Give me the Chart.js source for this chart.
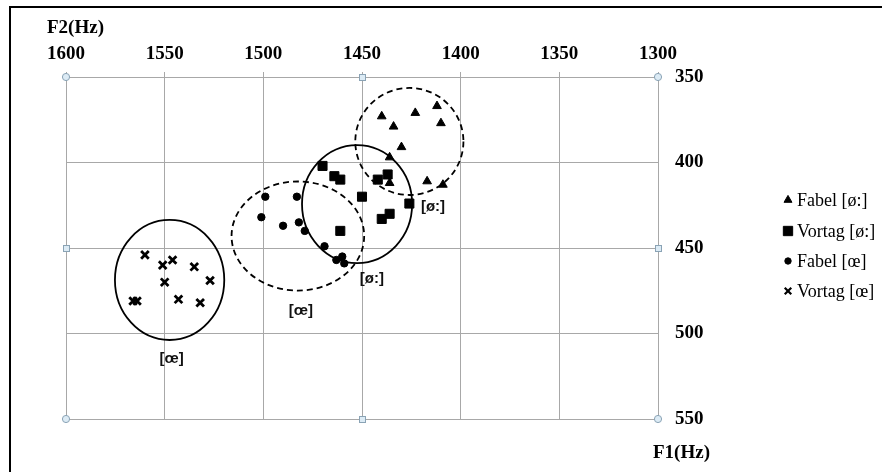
<!DOCTYPE html>
<html>
<head>
<meta charset="utf-8">
<script src="https://cdn.jsdelivr.net/npm/chart.js@4/dist/chart.umd.min.js"></script>
<style>
  html, body { margin: 0; padding: 0; background: #fff; }
  #wrap { position: relative; width: 882px; height: 472px; overflow: hidden; }
  #wrap canvas { position: absolute; left: 0; top: 0; }
  #frame { position: absolute; left: 9px; top: 6px; width: 900px; height: 500px;
           border-top: 2px solid #000; border-left: 2px solid #000; pointer-events: none; }
</style>
</head>
<body>
<div id="wrap">
  <canvas id="chart" width="882" height="472"></canvas>
  <div id="frame"></div>
</div>
<script>
// Formant measurements (F2 horizontal, F1 vertical), in Hz
const seriesNames = ['Fabel [ø:]', 'Vortag [ø:]', 'Fabel [œ]', 'Vortag [œ]'];

const fabelLongF2  = [1440, 1423, 1412, 1434, 1410, 1430, 1436, 1436, 1417, 1409];
const fabelLongF1  = [373, 371, 367, 379, 377, 391, 397, 412, 411, 413];

const vortagLongF2 = [1470, 1464, 1461, 1450, 1442, 1437, 1426, 1440, 1436, 1461];
const vortagLongF1 = [402, 408, 410, 420, 410, 407, 424, 433, 430, 440];

const fabelShortF2  = [1499, 1483, 1501, 1490, 1482, 1479, 1469, 1463, 1460, 1459];
const fabelShortF1  = [420, 420, 432, 437, 435, 440, 449, 457, 455, 459];

const vortagShortF2 = [1560, 1551, 1546, 1535, 1527, 1550, 1566, 1564, 1543, 1532];
const vortagShortF1 = [454, 460, 457, 461, 469, 470, 481, 481, 480, 482];

// Axis ticks
const f2Ticks = [1600, 1550, 1500, 1450, 1400, 1350, 1300];
const f1Ticks = [350, 400, 450, 500, 550];

// Vowel areas: centre and half-axes in Hz
const areaCentreF2 = [1426, 1452.5, 1482.5, 1547.5];
const areaCentreF1 = [387.7, 424.3, 443, 468.7];
const areaRadiusF2 = [27.4, 27.9, 33.6, 27.7];
const areaRadiusF1 = [31.3, 34.5, 31.9, 35.1];
const areaDashed   = [true, false, true, false];

// Vowel area captions
const captionText = ['[ø:]', '[ø:]', '[œ]', '[œ]'];
const captionF2   = [1414, 1445, 1481, 1546.5];
const captionF1   = [426, 468, 487, 515];

const pairUp = (xs, ys) => xs.map((x, i) => ({ x: x, y: ys[i] }));

const markerStyles = [
  { pointStyle: 'triangle', radius: 5,   border: 1 },
  { pointStyle: 'rect',     radius: 6.4, border: 1 },
  { pointStyle: 'circle',   radius: 3.7, border: 1 },
  { pointStyle: 'crossRot', radius: 5.4, border: 2.8 }
];
const seriesData = [
  pairUp(fabelLongF2, fabelLongF1),
  pairUp(vortagLongF2, vortagLongF1),
  pairUp(fabelShortF2, fabelShortF1),
  pairUp(vortagShortF2, vortagShortF1)
];

const gridGrey = '#a8a8a8';
const serif = '"Liberation Serif", "Times New Roman", serif';

function marker(ctx, style, x, y, r, lw) {
  ctx.save();
  ctx.fillStyle = '#000';
  ctx.strokeStyle = '#000';
  ctx.lineWidth = lw;
  ctx.beginPath();
  if (style === 'triangle') {
    const a = -Math.PI / 2;
    for (let k = 0; k < 3; k++) {
      const t = a + k * 2 * Math.PI / 3;
      const px = x + Math.cos(t) * r, py = y + Math.sin(t) * r;
      k ? ctx.lineTo(px, py) : ctx.moveTo(px, py);
    }
    ctx.closePath(); ctx.fill(); ctx.stroke();
  } else if (style === 'rect') {
    const s = r * Math.SQRT1_2;
    ctx.rect(x - s, y - s, 2 * s, 2 * s); ctx.fill(); ctx.stroke();
  } else if (style === 'circle') {
    ctx.arc(x, y, r, 0, Math.PI * 2); ctx.fill(); ctx.stroke();
  } else {
    const o = r * Math.SQRT1_2;
    ctx.moveTo(x - o, y - o); ctx.lineTo(x + o, y + o);
    ctx.moveTo(x - o, y + o); ctx.lineTo(x + o, y - o);
    ctx.stroke();
  }
  ctx.restore();
}

const vowelAreas = {
  id: 'vowelAreas',
  beforeDatasetsDraw(chart) {
    const { ctx, scales: { x, y } } = chart;
    ctx.save();
    ctx.strokeStyle = '#000';
    ctx.lineWidth = 1.8;
    areaCentreF2.forEach((c, i) => {
      const cx = x.getPixelForValue(c);
      const cy = y.getPixelForValue(areaCentreF1[i]);
      const rx = Math.abs(x.getPixelForValue(c + areaRadiusF2[i]) - cx);
      const ry = Math.abs(y.getPixelForValue(areaCentreF1[i] + areaRadiusF1[i]) - cy);
      ctx.setLineDash(areaDashed[i] ? [6, 4] : []);
      ctx.beginPath();
      ctx.ellipse(cx, cy, rx, ry, 0, 0, Math.PI * 2);
      ctx.stroke();
    });
    ctx.restore();
  },
  afterDatasetsDraw(chart) {
    const { ctx, scales: { x, y } } = chart;
    ctx.save();
    ctx.fillStyle = '#111';
    ctx.font = 'bold 15px "Liberation Sans", Arial, sans-serif';
    ctx.textAlign = 'center';
    ctx.textBaseline = 'middle';
    captionText.forEach((t, i) => {
      ctx.fillText(t, x.getPixelForValue(captionF2[i]), y.getPixelForValue(captionF1[i]));
    });
    ctx.restore();
  }
};

// Corner and mid-edge handles of the plot frame
const frameHandles = {
  id: 'frameHandles',
  afterDraw(chart) {
    const { ctx, scales: { x, y } } = chart;
    const xs = [f2Ticks[0], f2Ticks[f2Ticks.length - 1]];
    const ys = [f1Ticks[0], f1Ticks[f1Ticks.length - 1]];
    const xMid = (xs[0] + xs[1]) / 2, yMid = (ys[0] + ys[1]) / 2;
    ctx.save();
    ctx.fillStyle = '#dcebf5';
    ctx.strokeStyle = '#8aa3b5';
    ctx.lineWidth = 1;
    xs.forEach(a => ys.forEach(b => {
      ctx.beginPath();
      ctx.arc(x.getPixelForValue(a), y.getPixelForValue(b), 3.6, 0, Math.PI * 2);
      ctx.fill(); ctx.stroke();
    }));
    const squares = [[xMid, ys[0]], [xMid, ys[1]], [xs[0], yMid], [xs[1], yMid]];
    squares.forEach(([a, b]) => {
      const px = Math.round(x.getPixelForValue(a)) + 0.5;
      const py = Math.round(y.getPixelForValue(b)) + 0.5;
      ctx.fillRect(px - 3, py - 3, 6, 6);
      ctx.strokeRect(px - 3, py - 3, 6, 6);
    });
    ctx.restore();
  }
};

// Axis titles and the series key
const keyAndTitles = {
  id: 'keyAndTitles',
  afterDraw(chart) {
    const { ctx } = chart;
    ctx.save();
    ctx.fillStyle = '#000';
    ctx.font = 'bold 19px ' + serif;
    ctx.textAlign = 'left';
    ctx.textBaseline = 'middle';
    ctx.fillText('F2(Hz)', 47, 28);
    ctx.fillText('F1(Hz)', 653, 453);

    ctx.font = '18px ' + serif;
    const rowY = [200, 231, 261, 291];
    const keySize = [
      { r: 4.6, lw: 1 }, { r: 6.6, lw: 1 }, { r: 3.2, lw: 1 }, { r: 4.6, lw: 2.2 }
    ];
    seriesNames.forEach((name, i) => {
      marker(ctx, markerStyles[i].pointStyle, 788, rowY[i], keySize[i].r, keySize[i].lw);
      ctx.fillText(name, 797, rowY[i] + 1);
    });
    ctx.restore();
  }
};

new Chart(document.getElementById('chart'), {
  type: 'scatter',
  data: {
    datasets: seriesData.map((pts, i) => ({
      label: seriesNames[i],
      data: pts,
      pointStyle: markerStyles[i].pointStyle,
      pointRadius: markerStyles[i].radius,
      pointBorderWidth: markerStyles[i].border,
      backgroundColor: '#000',
      borderColor: '#000'
    }))
  },
  options: {
    responsive: false,
    animation: false,
    events: [],
    layout: { padding: { left: 66, right: 0, top: 0, bottom: 53 } },
    plugins: { legend: { display: false }, tooltip: { enabled: false } },
    scales: {
      x: {
        type: 'linear',
        position: 'top',
        reverse: true,
        min: 1300,
        max: 1600,
        afterBuildTicks: s => { s.ticks = f2Ticks.map(v => ({ value: v })); },
        afterFit: s => { s.height = 77; },
        grid: { color: gridGrey, lineWidth: 1, tickLength: 5, drawTicks: true, tickColor: gridGrey },
        border: { color: gridGrey, width: 1 },
        ticks: { color: '#000', padding: 7, maxRotation: 0,
                 callback: v => String(v),
                 font: { family: serif, size: 19, weight: 'bold' } }
      },
      y: {
        type: 'linear',
        position: 'right',
        reverse: true,
        min: 350,
        max: 550,
        afterBuildTicks: s => { s.ticks = f1Ticks.map(v => ({ value: v })); },
        afterFit: s => { s.width = 224; },
        grid: { color: gridGrey, lineWidth: 1, drawTicks: false },
        border: { color: gridGrey, width: 1 },
        ticks: { color: '#000', padding: 17,
                 callback: v => String(v),
                 font: { family: serif, size: 19, weight: 'bold' } }
      }
    }
  },
  plugins: [vowelAreas, frameHandles, keyAndTitles]
});
</script>
</body>
</html>
